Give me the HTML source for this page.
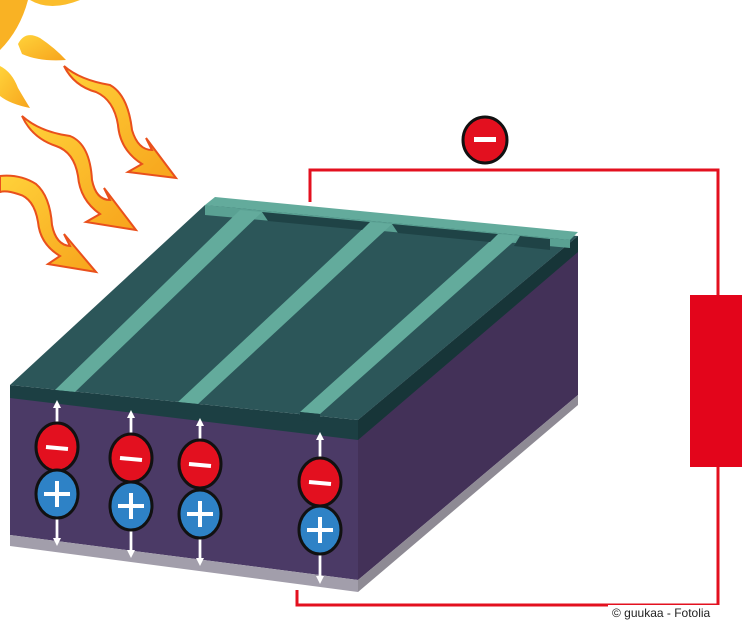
<!DOCTYPE html>
<html><head><meta charset="utf-8"><style>
html,body{margin:0;padding:0;background:#fff;}
svg{display:block}
</style></head><body>
<svg width="742" height="620" viewBox="0 0 742 620" xmlns="http://www.w3.org/2000/svg">
<defs>
<linearGradient id="ray" x1="0" y1="0" x2="1" y2="1">
<stop offset="0" stop-color="#ffd23a"/><stop offset="1" stop-color="#f7a41c"/>
</linearGradient>
<marker id="ah" markerWidth="8" markerHeight="8" refX="4" refY="4" orient="auto" markerUnits="userSpaceOnUse">
<path d="M0,0 L8,4 L0,8 z" fill="#fff"/>
</marker>
</defs>
<!-- sun -->
<path d="M0,0 L28,0 Q20,30 0,50 z" fill="#f9b224"/>
<path d="M30,0 Q50,12 80,0 z" fill="#fbbd2c"/>
<path d="M18,44 Q25,30 40,38 Q55,48 66,60 Q40,62 22,54 z" fill="url(#ray)"/>
<path d="M0,66 Q12,72 18,88 Q25,100 30,108 Q10,104 0,96 z" fill="url(#ray)"/>
<!-- wavy arrows -->
<g fill="url(#ray)" stroke="#e9501c" stroke-width="2">
<path d="M64,66 Q80,80 110,85 Q128,95 132,130 Q138,150 152,150 L146,138 L176,178 L128,172 L142,164 Q120,150 118,125 Q114,100 96,92 Q74,86 64,66 z"/>
<path d="M22,116 Q40,132 70,136 Q90,144 92,180 Q96,200 110,200 L104,188 L136,230 L86,222 L100,214 Q80,200 78,176 Q74,152 56,146 Q32,138 22,116 z"/>
<path d="M0,176 Q20,174 36,184 Q50,196 52,225 Q56,245 70,246 L64,234 L96,272 L48,264 L60,256 Q40,244 38,222 Q34,198 18,194 Q6,190 0,192 z"/>
</g>
<!-- red circuit -->
<polyline points="310,202 310,170 718,170 718,605 297,605 297,590" fill="none" stroke="#e3101f" stroke-width="3"/>
<rect x="690" y="295" width="52" height="172" fill="#e3051b"/>
<ellipse cx="485" cy="140" rx="22" ry="23" fill="#e3101f" stroke="#111" stroke-width="3"/>
<rect x="474" y="137" width="22" height="5" fill="#fff"/>
<!-- box right face -->
<polygon points="358,420 578,236 578,395 358,580" fill="#433158"/>
<polygon points="358,580 578,395 578,405 358,592" fill="#8e8a94"/>
<!-- front face -->
<polygon points="10,395 358,432 358,580 10,535" fill="#4b3a66"/>
<polygon points="10,535 358,580 358,592 10,546" fill="#a29eab"/>
<!-- top layer thickness -->
<polygon points="10,385 358,420 358,440 10,398" fill="#1c3f43"/>
<polygon points="358,420 578,236 578,252 358,440" fill="#173538"/>
<!-- top surface -->
<polygon points="10,385 205,205 578,236 358,420" fill="#2c5659"/>
<!-- back bus bar -->
<polygon points="205,205 215,197 578,232 570,240" fill="#63ab9c"/>
<polygon points="205,205 570,240 570,248 205,215" fill="#5aa193"/>
<!-- fingers -->
<polygon points="240,210 262,212 75,392 55,390" fill="#63ab9c"/>
<polygon points="55,390 75,392 75,400 55,398" fill="#1c3f43"/>
<polygon points="370,222 392,224 198,404 178,402" fill="#63ab9c"/>
<polygon points="178,402 198,404 198,412 178,410" fill="#1c3f43"/>
<polygon points="498,234 520,236 320,414 300,412" fill="#63ab9c"/>
<polygon points="300,412 320,414 320,422 300,420" fill="#1c3f43"/>
<!-- darker inner trench edges -->
<polygon points="262,212 370,222 362,230 268,221" fill="#1f4346"/>
<polygon points="392,224 498,234 490,242 398,233" fill="#1f4346"/>
<polygon points="520,236 550,239 550,250 514,246" fill="#1f4346"/>
<!-- arrows and charges -->
<g stroke="#fff" stroke-width="2.5">
<line x1="57" y1="540" x2="57" y2="404" marker-end="url(#ah)"/>
<line x1="57" y1="404" x2="57" y2="542" marker-end="url(#ah)"/>
<line x1="131" y1="552" x2="131" y2="414" marker-end="url(#ah)"/>
<line x1="131" y1="414" x2="131" y2="554" marker-end="url(#ah)"/>
<line x1="200" y1="560" x2="200" y2="422" marker-end="url(#ah)"/>
<line x1="200" y1="422" x2="200" y2="562" marker-end="url(#ah)"/>
<line x1="320" y1="578" x2="320" y2="436" marker-end="url(#ah)"/>
<line x1="320" y1="436" x2="320" y2="580" marker-end="url(#ah)"/>
</g>
<g stroke="#111" stroke-width="3">
<ellipse cx="57" cy="447" rx="21" ry="24" fill="#e3101f"/>
<ellipse cx="57" cy="494" rx="21" ry="24" fill="#2e82c6"/>
<ellipse cx="131" cy="458" rx="21" ry="24" fill="#e3101f"/>
<ellipse cx="131" cy="506" rx="21" ry="24" fill="#2e82c6"/>
<ellipse cx="200" cy="464" rx="21" ry="24" fill="#e3101f"/>
<ellipse cx="200" cy="514" rx="21" ry="24" fill="#2e82c6"/>
<ellipse cx="320" cy="482" rx="21" ry="24" fill="#e3101f"/>
<ellipse cx="320" cy="530" rx="21" ry="24" fill="#2e82c6"/>
</g>
<g stroke="#fff" stroke-width="4">
<line x1="46" y1="447" x2="68" y2="449"/>
<line x1="120" y1="458" x2="142" y2="460"/>
<line x1="189" y1="464" x2="211" y2="466"/>
<line x1="309" y1="482" x2="331" y2="484"/>
<line x1="44" y1="494" x2="70" y2="494"/><line x1="57" y1="481" x2="57" y2="507"/>
<line x1="118" y1="506" x2="144" y2="506"/><line x1="131" y1="493" x2="131" y2="519"/>
<line x1="187" y1="514" x2="213" y2="514"/><line x1="200" y1="501" x2="200" y2="527"/>
<line x1="307" y1="530" x2="333" y2="530"/><line x1="320" y1="517" x2="320" y2="543"/>
</g>
<rect x="608" y="605" width="134" height="15" fill="#fff"/>
<text x="612" y="617" font-family="Liberation Sans, sans-serif" font-size="12" fill="#222">© guukaa - Fotolia</text>
</svg>
</body></html>
